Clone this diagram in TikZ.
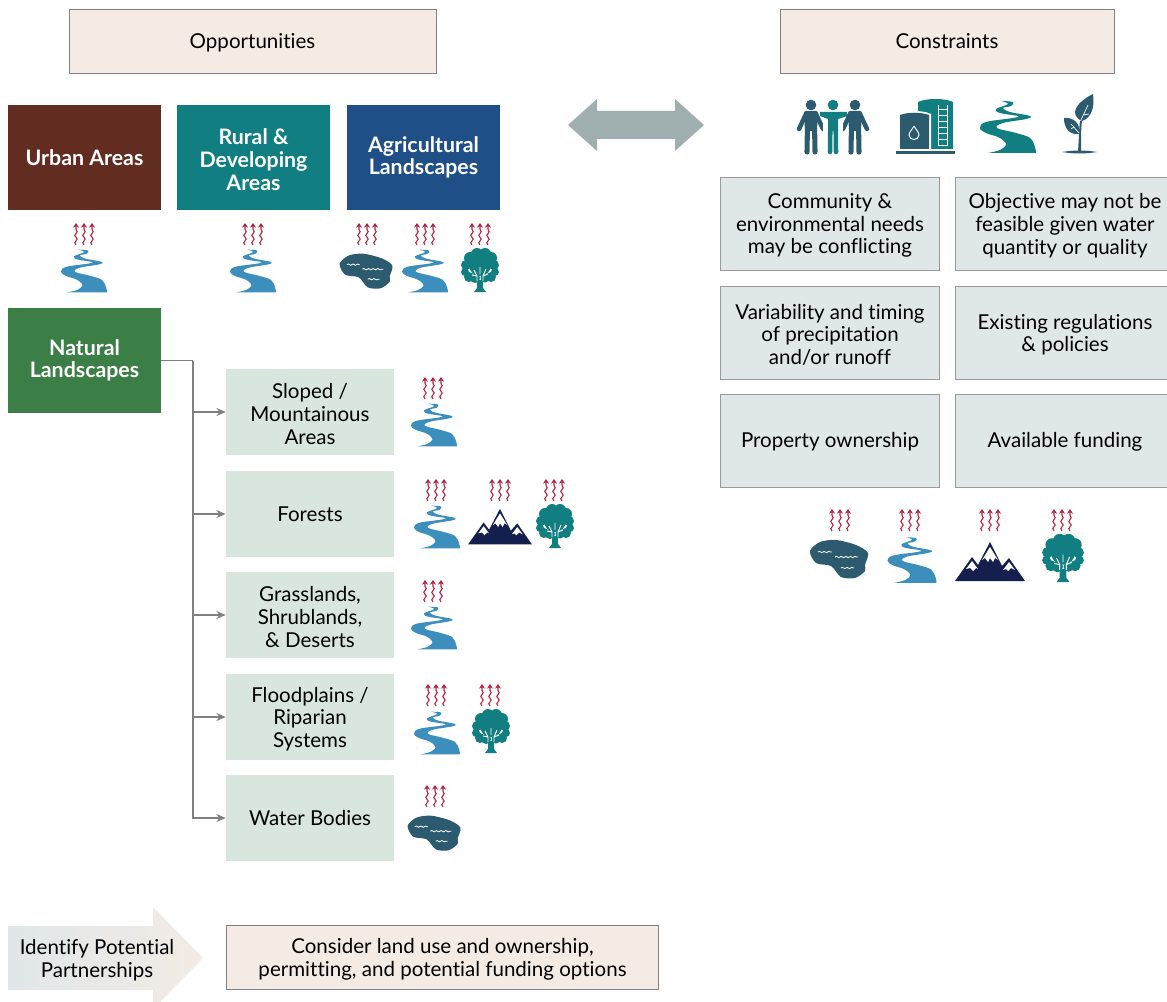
\documentclass[tikz,border=0pt]{standalone}
\usepackage{fontspec}
\setmainfont{Lato}[Ligatures=NoCommon]
\usetikzlibrary{arrows.meta}
\usetikzlibrary{decorations.pathmorphing}
\definecolor{cream}{HTML}{F3EBE4}
\definecolor{paleblue}{HTML}{E0E7E9}
\definecolor{palegreen}{HTML}{D9E6DD}
\definecolor{urbanbrown}{HTML}{622D20}
\definecolor{ruralteal}{HTML}{117E82}
\definecolor{agriblue}{HTML}{1F4F87}
\definecolor{naturalgreen}{HTML}{3B7F46}
\definecolor{riverblue}{HTML}{3C8FBD}
\definecolor{darkslate}{HTML}{2C5A6E}
\definecolor{peaknavy}{HTML}{141F4D}
\definecolor{heatred}{HTML}{B5213F}
\definecolor{arrowgray}{HTML}{9FAFB0}
\tikzset{
  every node/.style={font=\fontsize{15.4}{17}\selectfont, align=center, inner sep=0pt},
  lowered/.style={execute at begin node={\rule{0pt}{#1}}},
  headbox/.style={draw=gray, fill=cream, minimum height=48pt},
  landbox/.style={text=white, font=\fontsize{16}{17}\selectfont\bfseries, minimum width=114.75pt, minimum height=78.75pt},
  needbox/.style={draw=gray!80, fill=paleblue, minimum width=164.5pt, minimum height=70pt},
  typebox/.style={fill=palegreen, minimum width=126pt, minimum height=64.5pt},
  branch/.style={draw=gray, line width=.9pt},
  pics/heat/.style={code={
    \foreach \dx in {-8,0,8}
      \draw [heatred, line width=.8pt, -{Stealth[length=3.5pt,width=4.5pt]}, decorate,
        decoration={snake, amplitude=.9pt, segment length=5.5pt, post length=3pt}]
        (\dx,11) -- (\dx,-11);
  }},
  pics/riverpic/.style={code={
    \fill [#1] plot [smooth, tension=.6] coordinates {(-7,-26) (5,-25) (3,-21) (-5,-19) (2,-15) (22,-11) (18,-8) (-5,-4) (-11,1) (8,6) (22,11) (27,20) (28,26)}
      -- (-20,26) -- plot [smooth, tension=.6] coordinates {(-20,26) (-8,23) (-2,18) (-4,14) (-10,10) (-22,6) (-28,1) (-22,-5) (5,-9) (10,-11) (-8,-14) (-12,-18) (0,-23) (-7,-26)} -- cycle;
  }},
  pics/lakepic/.style={code={
    \fill [darkslate] plot [smooth cycle] coordinates {(-29,-8) (-19,-17) (-3,-19) (17,-14) (29,-6) (26,6) (26,12) (16,19) (2,18) (-8,7) (-23,4)};
    \draw [white, line width=.6pt, decorate, decoration={snake, amplitude=.5pt, segment length=3.5pt}] (-21,-7) -- (-7,-7);
    \draw [white, line width=.6pt, decorate, decoration={snake, amplitude=.5pt, segment length=3.5pt}] (-4,-2) -- (19,-2);
    \draw [white, line width=.6pt, decorate, decoration={snake, amplitude=.5pt, segment length=3.5pt}] (2,9) -- (15,9);
  }},
  pics/treepic/.style={code={
    \fill [ruralteal] (-3,10) -- (-3,18) -- (-6,22) -- (6,22) -- (3,18) -- (3,10) -- cycle;
    \foreach \cx/\cy/\cr in {0/-5/11, -3/-16/6, 5/-16/6, -10/-12/6, 11/-12/6, -14/-5/5, 14/-5/5, -15/2/4, 15/2/4, -11/7/5, 11/7/5, -5/8/5, 5/8/4.5}
      \fill [ruralteal] (\cx,\cy) circle (\cr);
    \draw [white, line width=.7pt] (-3,11) -- (-3,6) -- (-6,0) (-3,6) -- (-8,5) (3,11) -- (3,6) -- (6,-1) (3,6) -- (8,4) (0,4) -- (0,-3);
  }},
  pics/peakpic/.style={code={
    \fill [peaknavy, line join=round] (-35,19) -- (-18,-5) -- (-12,3) -- (0,-20) -- (12,4) -- (19,-4) -- (35,19) -- cycle;
    \fill [white] (0,-15) -- (-8,-2) -- (-5,-4) -- (-2,0) -- (0,-4) -- (3,0) -- (5,-4) -- (8,-2) -- cycle;
    \fill [white] (-18,-1) -- (-24,7) -- (-20,6) -- (-17,9) -- (-14,6) -- (-12,7) -- cycle;
    \fill [white] (19,0) -- (13,8) -- (16,7) -- (18,9) -- (21,6) -- (25,8) -- cycle;
  }},
  pics/personpic/.style={code={
    \fill [#1] (0,-22) circle (5.3);
    \draw [#1, line width=3.4pt, line cap=round, line join=round] (-5,-13) -- (-12,2) (5,-13) -- (12,2);
    \fill [#1, rounded corners=1.5pt] (-7,-16) -- (7,-16) -- (6,4) -- (-6,4) -- cycle;
    \draw [#1, line width=3.8pt, line cap=round] (-3.6,2) -- (-4,25) (3.6,2) -- (4,25);
  }},
  pics/crewpic/.style={code={
    \begin{scope}[xshift=-16.5pt]\pic at (0,0) {personpic=darkslate};\end{scope}
    \begin{scope}[xshift=16.5pt]\pic at (0,0) {personpic=darkslate};\end{scope}
    \fill [white] (-10,-18) rectangle (10,6);
    \fill [ruralteal] (0,-22) circle (5.3);
    \fill [ruralteal] (-13,-15) -- (14,-15) -- (14,-11) -- (5,-8) -- (5,4) -- (-5,4) -- (-5,-8) -- (-13,-11) -- cycle;
    \draw [ruralteal, line width=3.4pt, line cap=round] (-2.7,2) -- (-3,25) (2.7,2) -- (3,25);
  }},
  pics/tankpic/.style={code={
    \fill [darkslate] (-30,24) rectangle (29,27);
    \fill [ruralteal] (-8,22) -- (-8,-25) .. controls (0,-29) and (19,-29) .. (27,-25) -- (27,22) -- cycle;
    \fill [white] (-28,23) -- (-28,-13) .. controls (-20,-17) and (-3,-17) .. (5,-13) -- (5,23) -- cycle;
    \fill [darkslate] (-26,22) -- (-26,-12) .. controls (-18,-15) and (-5,-15) .. (3,-12) -- (3,22) -- cycle;
    \draw [white, line width=.7pt] (-12,-1) .. controls (-14,3) and (-17,5) .. (-17,8) .. controls (-17,14) and (-7,14) .. (-7,8) .. controls (-7,5) and (-10,3) .. (-12,-1);
    \draw [white, line width=.7pt] (12,-22) -- (12,19) (21,-22) -- (21,19);
    \foreach \ry in {-18,-12,...,18}
      \draw [white, line width=.7pt] (12,\ry) -- (21,\ry);
  }},
  pics/sproutpic/.style={code={
    \fill [darkslate] (-17,29) .. controls (-5,27) and (6,27) .. (18,29) .. controls (6,31) and (-5,31) .. (-17,29) -- cycle;
    \fill [darkslate] (-1,28) .. controls (0,15) and (0,5) .. (1,-2) -- (3,-2) .. controls (2,5) and (2,15) .. (2,28) -- cycle;
    \fill [darkslate] (14,-29) .. controls (16,-15) and (12,-5) .. (3,-2) .. controls (-10,-8) and (-4,-20) .. (14,-29) -- cycle;
    \fill [darkslate] (-15,-5) .. controls (-6,-6) and (2,0) .. (0,11) .. controls (-10,12) and (-15,5) .. (-15,-5) -- cycle;
    \draw [white, line width=.5pt] (2,-3) -- (9,-18) (4,-8) -- (10,-9) (-8,1) -- (0,10) (-5,4) -- (-8,6);
  }},
}
\begin{document}
\begin{tikzpicture}[x=.75pt,y=-.75pt]
\useasboundingbox (0,0) rectangle (1167,1002);

\node [headbox, lowered=14pt, minimum width=275pt] (opportunities) at (252.5,41) {Opportunities};
\node [headbox, minimum width=250.5pt] (constraints) at (947,41) {Constraints};

\node [landbox, fill=urbanbrown] (urban) at (84.5,157.5) {Urban Areas};
\node [landbox, lowered=49pt, fill=ruralteal] (rural) at (253.5,157.5) {Rural \&\\Developing\\Areas};
\node [landbox, fill=agriblue] (agri) at (423.5,157.5) {Agricultural\\Landscapes};
\node [landbox, fill=naturalgreen] (natural) at (84.5,360.5) {Natural\\Landscapes};

% double arrow
\fill [arrowgray] (568,125) -- (597,99) -- (597,111) -- (675,111) -- (675,99) -- (704,125) -- (675,151) -- (675,139) -- (597,139) -- (597,151) -- cycle;

\pic at (84,234) {heat};
\pic [scale=.82] at (84,271) {riverpic=riverblue};
\pic at (253,234) {heat};
\pic [scale=.82] at (253,271) {riverpic=riverblue};
\pic at (367,234) {heat};
\pic [scale=.91] at (366,271) {lakepic};
\pic at (425,234) {heat};
\pic [scale=.82] at (425,271) {riverpic=riverblue};
\pic at (480,234) {heat};
\pic at (480,270) {treepic};

\node [typebox, lowered=48.5pt] (sloped) at (310,412) {Sloped /\\Mountainous\\Areas};
\node [typebox] (forests) at (310,514) {Forests};
\node [typebox, lowered=48.5pt] (grass) at (310,615) {Grasslands,\\Shrublands,\\\& Deserts};
\node [typebox, lowered=48.5pt] (flood) at (310,717) {Floodplains /\\Riparian\\Systems};
\node [typebox] (water) at (310,818) {Water Bodies};

\coordinate (trunk) at (193,360.5);
\draw [branch] (natural.east) -- (trunk);
\foreach \target in {sloped,forests,grass,flood,water}
  \draw [branch, -{Stealth[length=7pt,width=6pt]}] (trunk) |- (\target.west);

\pic at (433,388) {heat};
\pic [scale=.82] at (434,425) {riverpic=riverblue};
\pic at (436,490) {heat};
\pic [scale=.82] at (437,527) {riverpic=riverblue};
\pic at (500,490) {heat};
\pic [scale=.91] at (500,527) {peakpic};
\pic at (554,490) {heat};
\pic at (555,526) {treepic};
\pic at (433,591) {heat};
\pic [scale=.82] at (434,628) {riverpic=riverblue};
\pic at (436,695) {heat};
\pic [scale=.82] at (437,733) {riverpic=riverblue};
\pic at (490,695) {heat};
\pic at (491,731) {treepic};
\pic at (435,796) {heat};
\pic [scale=.91] at (434,833) {lakepic};

\pic at (833,127) {crewpic};
\pic at (926,127) {tankpic};
\pic at (1008,127) {riverpic=ruralteal};
\pic at (1079,123) {sproutpic};

\node [needbox, lowered=48.5pt] (community) at (830,223.5) {Community \&\\environmental needs\\may be conflicting};
\node [needbox, lowered=48.5pt] (objective) at (1065,223.5) {Objective may not be\\feasible given water\\quantity or quality};
\node [needbox, lowered=48.5pt] (variability) at (830,332.5) {Variability and timing\\of precipitation\\and/or runoff};
\node [needbox, lowered=31.5pt] (regulations) at (1065,332.5) {Existing regulations\\\& policies};
\node [needbox, lowered=13pt] (ownership) at (830,441) {Property ownership};
\node [needbox, lowered=13pt] (funding) at (1065,441) {Available funding};

\pic at (840,520) {heat};
\pic at (839,559) {lakepic};
\pic at (910,520) {heat};
\pic [scale=.875] at (912,560) {riverpic=riverblue};
\pic at (990,520) {heat};
\pic at (990,562) {peakpic};
\pic at (1062,520) {heat};
\pic [scale=1.1] at (1063,558) {treepic};

% bottom row
\shade [left color=paleblue, right color=cream] (8,926) -- (153,926) -- (153,907) -- (203,958) -- (160,1002) -- (153,1002) -- (153,990) -- (8,990) -- cycle;
\node (partners) at (97,960) {Identify Potential\\Partnerships};
\node [headbox, lowered=31.5pt, minimum width=324pt] (landuse) at (442.5,957.5) {Consider land use and ownership,\\permitting, and potential funding options};

\end{tikzpicture}
\end{document}
